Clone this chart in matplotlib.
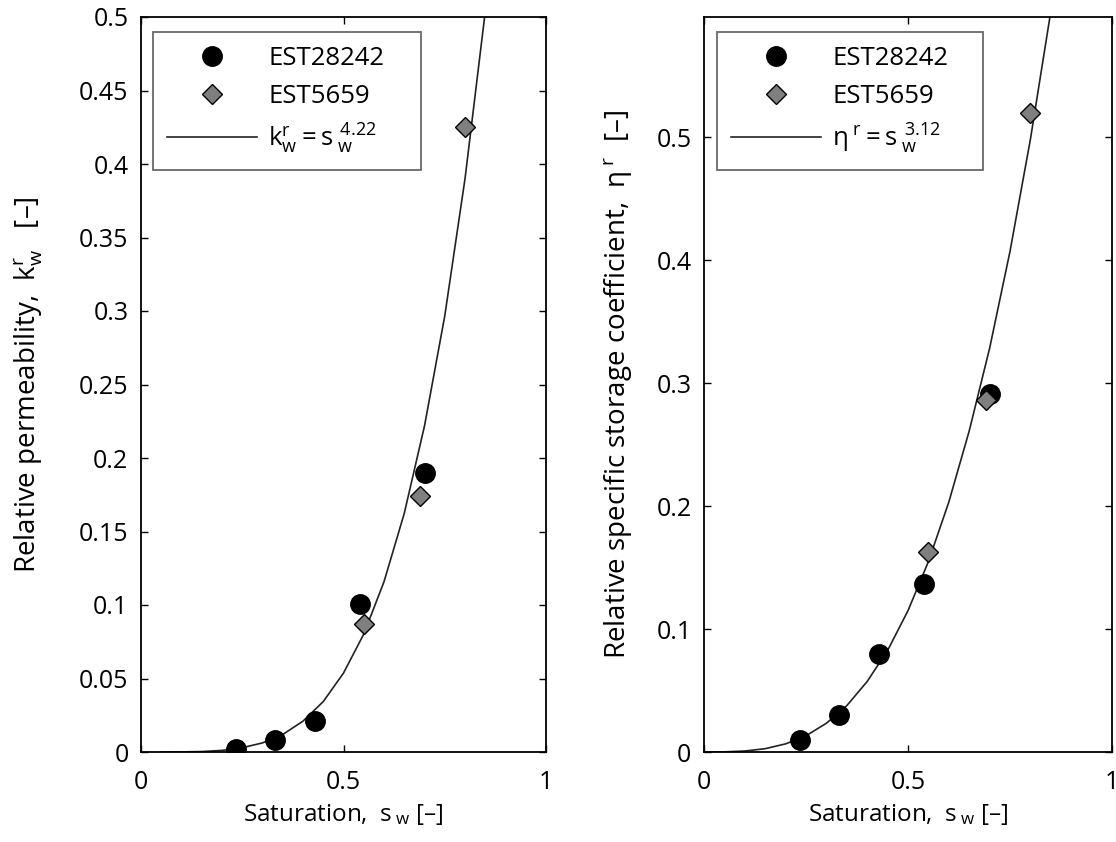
import matplotlib
matplotlib.use("Agg")
import matplotlib.pyplot as plt

plt.rcParams['font.family'] = ['Open Sans', 'DejaVu Sans']
plt.rcParams['mathtext.fontset'] = 'custom'
plt.rcParams['mathtext.rm'] = 'Open Sans'
plt.rcParams['mathtext.it'] = 'Open Sans'
plt.rcParams['mathtext.bf'] = 'Open Sans'

# ---- data ----
sat_circle = [0.235, 0.33, 0.43, 0.54, 0.70]
sat_diamond = [0.55, 0.69, 0.80]

kr_EST28242 = [0.002, 0.008, 0.021, 0.101, 0.190]
kr_EST5659 = [0.087, 0.174, 0.425]

eta_EST28242 = [0.010, 0.030, 0.080, 0.137, 0.291]
eta_EST5659 = [0.163, 0.286, 0.520]

curve_s_left = [0.05, 0.10, 0.15, 0.20, 0.25, 0.30, 0.35, 0.40, 0.45, 0.50,
                0.55, 0.60, 0.65, 0.70, 0.75, 0.80, 0.85, 0.90]
curve_kr = [0.0, 0.0001, 0.0003, 0.0011, 0.0029, 0.0062, 0.0119, 0.0210, 0.0343,
            0.0537, 0.0802, 0.1158, 0.1623, 0.2218, 0.2966, 0.3899, 0.5036, 0.6412]

curve_s_right = [0.0, 0.05, 0.10, 0.15, 0.20, 0.25, 0.30, 0.35, 0.40, 0.45, 0.50,
                 0.55, 0.60, 0.65, 0.70, 0.75, 0.80, 0.85, 0.90]
curve_eta = [0.0, 0.0001, 0.0008, 0.0027, 0.0066, 0.0132, 0.0234, 0.0377, 0.0574,
             0.0826, 0.1150, 0.1549, 0.2033, 0.2612, 0.3284, 0.4073, 0.4985, 0.6025, 0.7200]

left_yticks = [0, 0.05, 0.1, 0.15, 0.2, 0.25, 0.3, 0.35, 0.4, 0.45, 0.5]
left_yticklabels = ['0', '0.05', '0.1', '0.15', '0.2', '0.25', '0.3', '0.35', '0.4', '0.45', '0.5']
right_yticks = [0, 0.1, 0.2, 0.3, 0.4, 0.5]
right_yticklabels = ['0', '0.1', '0.2', '0.3', '0.4', '0.5']
xticks = [0, 0.5, 1]
xticklabels = ['0', '0.5', '1']

fig = plt.figure(figsize=(11.16, 8.42), dpi=100)
ax1 = fig.add_axes([141/1116, 90/842, 405/1116, 735/842])
ax2 = fig.add_axes([704/1116, 90/842, 408/1116, 735/842])

TICK_FS = 18
XLABEL_FS = 17.5
YLABEL_FS = 20
LEG_FS = 18.5


def style(ax):
    ax.tick_params(direction='in', top=True, right=True, length=5, width=1,
                   labelsize=TICK_FS)
    ax.tick_params(axis='x', pad=13)
    ax.tick_params(axis='y', pad=9)
    for sp in ax.spines.values():
        sp.set_linewidth(1.3)
    ax.set_xlim(0, 1)
    ax.set_xticks(xticks)
    ax.set_xticklabels(xticklabels)


def legend(ax, x0, width):
    h, l = ax.get_legend_handles_labels()
    order = [1, 2, 0]
    leg = ax.legend([h[i] for i in order], [l[i] for i in order], loc='upper left',
                    bbox_to_anchor=(x0, 0.78, width, 0.2), mode='expand',
                    borderaxespad=0, fancybox=False,
                    edgecolor='#444444', fontsize=LEG_FS, handlelength=3.5,
                    handletextpad=0.43, labelspacing=0.5, borderpad=0.55)
    leg.get_frame().set_linewidth(1.3)


# Left panel
ax1.plot(curve_s_left, curve_kr, color='#222222', lw=1.2,
         label=r'$\mathrm{k}_\mathrm{w}^\mathrm{r} = \mathrm{s}\,{}_\mathrm{w}^{\,4.22}$')
ax1.plot(sat_circle, kr_EST28242, 'o', color='black', ms=14, label='EST28242', zorder=3)
ax1.plot(sat_diamond, kr_EST5659, 'D', mfc='#7f7f7f', mec='black', mew=1, ms=10,
         label='EST5659', zorder=4)
style(ax1)
ax1.set_ylim(0, 0.5)
ax1.set_yticks(left_yticks)
ax1.set_yticklabels(left_yticklabels)
ax1.set_xlabel(r'Saturation,  $\mathrm{s}\,{}_\mathrm{w}$ [–]', fontsize=XLABEL_FS, va='top')
ax1.set_ylabel(r'Relative permeability,  $\mathrm{k}_\mathrm{w}^\mathrm{r}$   [–]', fontsize=YLABEL_FS)
ax1.xaxis.set_label_coords(0.5, -0.068)
ax1.yaxis.set_label_coords(-0.236, 0.5)
legend(ax1, 0.03, 0.662)

# Right panel
ax2.plot(curve_s_right, curve_eta, color='#222222', lw=1.2,
         label=r'$\mathrm{\eta}^{\;\mathrm{r}} = \mathrm{s}\,{}_\mathrm{w}^{\,3.12}$')
ax2.plot(sat_circle, eta_EST28242, 'o', color='black', ms=14, label='EST28242', zorder=3)
ax2.plot(sat_diamond, eta_EST5659, 'D', mfc='#7f7f7f', mec='black', mew=1, ms=10,
         label='EST5659', zorder=4)
style(ax2)
ax2.set_ylim(0, 0.598)
ax2.set_yticks(right_yticks)
ax2.set_yticklabels(right_yticklabels)
ax2.set_xlabel(r'Saturation,  $\mathrm{s}\,{}_\mathrm{w}$ [–]', fontsize=XLABEL_FS, va='top')
ax2.set_ylabel(r'Relative specific storage coefficient,  $\mathrm{\eta}^{\;\mathrm{r}}$  [–]',
               fontsize=YLABEL_FS)
ax2.xaxis.set_label_coords(0.5, -0.068)
ax2.yaxis.set_label_coords(-0.172, 0.5)
legend(ax2, 0.032, 0.652)

fig.savefig('out.png', dpi=100)
